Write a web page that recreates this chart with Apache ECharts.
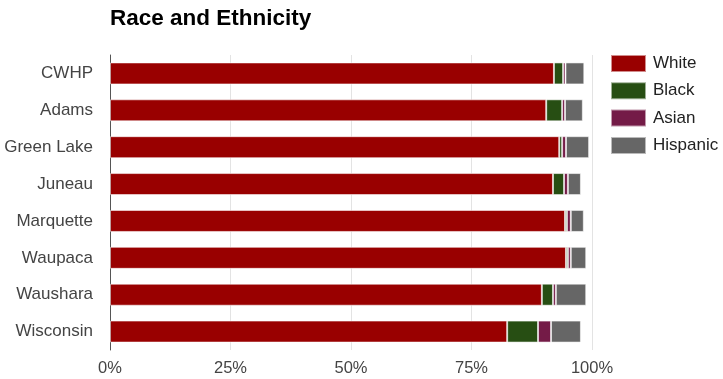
<!DOCTYPE html>
<html>
<head>
<meta charset="utf-8">
<script src="https://cdn.jsdelivr.net/npm/echarts@6/dist/echarts.min.js"></script>
<style>
  html, body { margin: 0; padding: 0; background: #fff; }
  #chart { width: 723px; height: 379px; }
</style>
</head>
<body>
<div id="chart"></div>
<script>
// Share of population by race / ethnicity (percent)
const regions  = ['CWHP', 'Adams', 'Green Lake', 'Juneau', 'Marquette', 'Waupaca', 'Waushara', 'Wisconsin'];
const white    = [92.1, 90.5, 93.2, 91.9, 94.4, 94.6, 89.6, 82.4];
const black    = [1.9, 3.3, 0.6, 2.3, 0.4, 0.4, 2.3, 6.4];
const asian    = [0.5, 0.6, 0.8, 0.8, 0.8, 0.6, 0.6, 2.7];
const hispanic = [3.9, 3.7, 4.8, 2.7, 2.7, 3.2, 6.3, 6.2];
const xTicks   = [0, 25, 50, 75, 100];

const seriesDefs = [
  { name: 'White',    data: white,    color: '#990000' },
  { name: 'Black',    data: black,    color: '#274e13' },
  { name: 'Asian',    data: asian,    color: '#741b47' },
  { name: 'Hispanic', data: hispanic, color: '#666666' }
];

const chart = echarts.init(document.getElementById('chart'), null, { renderer: 'canvas' });
const font = 'Liberation Sans, Arial, sans-serif';

chart.setOption({
  animation: false,
  textStyle: { fontFamily: font },
  title: {
    text: 'Race and Ethnicity',
    left: 105, top: 2,
    textStyle: { fontFamily: font, fontSize: 22.5, fontWeight: 'bold', color: '#000' }
  },
  legend: {
    orient: 'vertical',
    left: 605, top: 49,
    itemWidth: 35, itemHeight: 17,
    itemGap: 8.3,
    icon: 'rect',
    textStyle: { fontFamily: font, fontSize: 17, lineHeight: 17, color: '#222', padding: [0, 0, 0, 2] },
    data: seriesDefs.map(s => s.name)
  },
  grid: { left: 110, right: 131, top: 55, bottom: 29, containLabel: false },
  xAxis: {
    type: 'value',
    min: xTicks[0], max: xTicks[xTicks.length - 1], interval: 25,
    axisLine: { show: false },
    axisTick: { show: false },
    splitLine: { show: true, lineStyle: { color: '#e3e3e3', width: 1 } },
    axisLabel: {
      formatter: v => v + '%',
      fontFamily: font, fontSize: 16.5, color: '#444', margin: 10
    }
  },
  yAxis: {
    type: 'category',
    data: regions,
    inverse: true,
    axisLine: { show: true, lineStyle: { color: '#555', width: 1 } },
    axisTick: { show: false },
    axisLabel: { fontFamily: font, fontSize: 17, color: '#444', margin: 17 }
  },
  series: seriesDefs.map(s => ({
    name: s.name,
    type: 'bar',
    stack: 'total',
    data: s.data,
    barWidth: 22,
    itemStyle: { color: s.color, borderColor: 'rgba(255,255,255,0.55)', borderWidth: 1 },
    emphasis: { disabled: true }
  }))
});
</script>
</body>
</html>
